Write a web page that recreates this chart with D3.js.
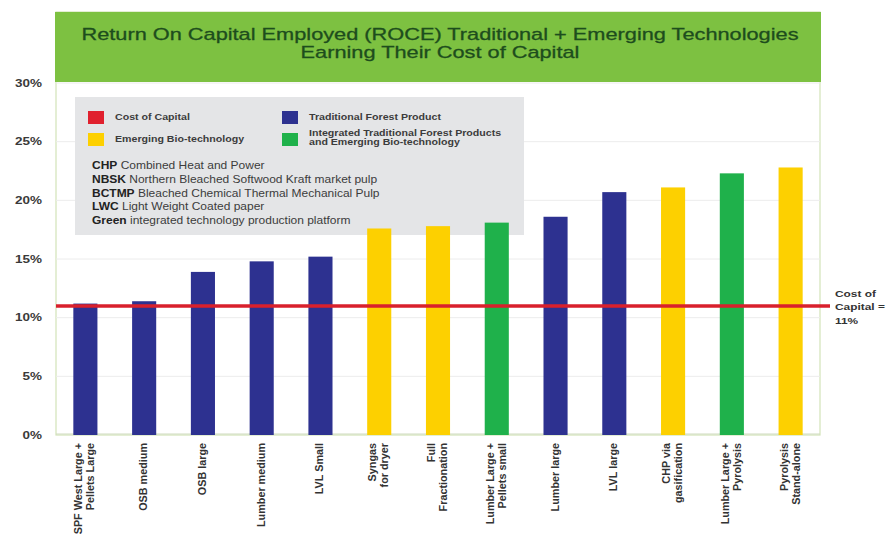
<!DOCTYPE html>
<html>
<head>
<meta charset="utf-8">
<script src="https://cdn.jsdelivr.net/npm/d3@7"></script>
<style>
    body { margin: 0; background: #fff; }
    svg { display: block; font-family: "Liberation Sans", Arial, sans-serif; }
</style>
</head>
<body>
<div class="content"></div>
<script>
(function (window) {
    'use strict';
    var categories = [
            "SPF West Large +\nPellets Large", "OSB medium", "OSB large", "Lumber medium",
            "LVL  Small", "Syngas\nfor dryer", "Full\nFractionation", "Lumber Large +\nPellets small",
            "Lumber large", "LVL large", "CHP via\ngasification", "Lumber Large +\nPyrolysis",
            "Pyrolysis\nStand-alone"
        ],
        roceValues = [11.2, 11.4, 13.9, 14.8, 15.2, 17.6, 17.8, 18.1, 18.6, 20.7, 21.1, 22.3, 22.8],
        barTypes = ["trad", "trad", "trad", "trad", "trad", "emerg", "emerg", "integ",
            "trad", "trad", "emerg", "integ", "emerg"],
        yTicks = [0, 5, 10, 15, 20, 25, 30],
        costOfCapital = 11,
        titleLines = [
            "Return On Capital Employed (ROCE) Traditional + Emerging Technologies",
            "Earning Their Cost of Capital"
        ],
        legendItems = [
            {key: "cost", label: ["Cost of Capital"]},
            {key: "trad", label: ["Traditional Forest Product"]},
            {key: "emerg", label: ["Emerging Bio-technology"]},
            {key: "integ", label: ["Integrated Traditional Forest Products", "and Emerging Bio-technology"]}
        ],
        abbrevs = [
            ["CHP", "Combined Heat and Power"],
            ["NBSK", "Northern Bleached Softwood Kraft market pulp"],
            ["BCTMP", "Bleached Chemical Thermal Mechanical Pulp"],
            ["LWC", "Light Weight Coated paper"],
            ["Green", "integrated technology production platform"]
        ],
        colors = {
            cost: "#e0202e",
            trad: "#2d3190",
            emerg: "#fdd000",
            integ: "#1fb14b"
        },
        opts = {
            width: 896,
            height: 535,
            left: 56,
            right: 820,
            top: 83,
            bottom: 435,
            stretch: 1.28   // the source image is squeezed wider than its type
        };

    var svg, x, y, legend, labels, title;

    svg = d3.select(".content").append("svg")
        .attr("width", opts.width)
        .attr("height", opts.height);

    x = d3.scaleBand()
        .domain(categories)
        .range([opts.left, opts.right])
        .paddingInner(0.59)
        .paddingOuter(0.295);

    y = d3.scaleLinear()
        .domain([0, 30])
        .range([opts.bottom, opts.top]);

    // plot frame
    svg.append("rect")
        .attr("x", opts.left)
        .attr("y", 12)
        .attr("width", opts.right - opts.left)
        .attr("height", opts.bottom - 12)
        .attr("fill", "none")
        .attr("stroke", "#d3e3b8")
        .attr("stroke-width", 1.2);

    // gridlines
    svg.append("g")
        .selectAll("line")
        .data(yTicks.slice(1))
        .enter().append("line")
        .attr("x1", opts.left)
        .attr("x2", opts.right)
        .attr("y1", function (d) { return y(d); })
        .attr("y2", function (d) { return y(d); })
        .attr("stroke", "#ececec")
        .attr("stroke-width", 1);

    // title bar
    svg.append("rect")
        .attr("x", 55)
        .attr("y", 12)
        .attr("width", 766)
        .attr("height", 70)
        .attr("fill", "#7dc141");
    title = svg.append("g")
        .attr("transform", "translate(440,0) scale(" + opts.stretch + ",1)");
    title.selectAll("text")
        .data(titleLines)
        .enter().append("text")
        .attr("x", 0)
        .attr("y", function (d, i) { return 40 + i * 18; })
        .attr("text-anchor", "middle")
        .attr("font-size", "17px")
        .attr("fill", "#1d4d1d")
        .attr("stroke", "#1d4d1d")
        .attr("stroke-width", 0.3)
        .text(function (d) { return d; });

    // y axis labels
    svg.append("g")
        .attr("transform", "translate(42,0)")
        .call(d3.axisLeft(y).tickValues(yTicks).tickSize(0).tickPadding(0)
            .tickFormat(function (d) { return d + "%"; }))
        .call(function (g) {
            g.select(".domain").remove();
            g.selectAll("text")
                .attr("transform", "scale(1.35,1)")
                .attr("font-family", "'Liberation Sans', Arial, sans-serif")
                .attr("font-size", "10px")
                .attr("font-weight", "bold")
                .attr("fill", "#3a3a3a");
        });

    // x axis line
    svg.append("line")
        .attr("x1", opts.left)
        .attr("x2", opts.right)
        .attr("y1", opts.bottom - 1)
        .attr("y2", opts.bottom - 1)
        .attr("stroke", "#d0dcc0")
        .attr("stroke-width", 1.2);

    // legend box
    legend = svg.append("g").attr("transform", "translate(75,97)");
    legend.append("rect")
        .attr("width", 449)
        .attr("height", 138)
        .attr("fill", "#e4e5e7");
    legend.selectAll("g.item")
        .data(legendItems)
        .enter().append("g")
        .attr("class", "item")
        .attr("transform", function (d, i) {
            return "translate(" + [i % 2 === 0 ? 13 : 207, i < 2 ? 14 : 36] + ")";
        })
        .each(function (d) {
            var g = d3.select(this);
            g.append("rect")
                .attr("width", 16)
                .attr("height", 13)
                .attr("fill", colors[d.key]);
            g.append("text")
                .attr("transform", "translate(27,0) scale(" + opts.stretch + ",1)")
                .attr("font-size", "8.3px")
                .attr("font-weight", "bold")
                .attr("fill", "#3c3c3c")
                .selectAll("tspan")
                .data(d.label)
                .enter().append("tspan")
                .attr("x", 0)
                .attr("y", function (t, i) { return (d.label.length > 1 ? 3 : 9.5) + i * 9.5; })
                .text(function (t) { return t; });
        });
    legend.selectAll("text.abbr")
        .data(abbrevs)
        .enter().append("text")
        .attr("class", "abbr")
        .attr("transform", function (d, i) {
            return "translate(" + [17, 72 + i * 13.8] + ") scale(1.2,1)";
        })
        .attr("font-size", "10px")
        .attr("fill", "#3c3c3c")
        .each(function (d) {
            var t = d3.select(this);
            t.append("tspan").attr("font-weight", "bold").attr("fill", "#222").text(d[0]);
            t.append("tspan").text(" " + d[1]);
        });

    // bars
    svg.append("g")
        .selectAll("rect")
        .data(roceValues)
        .enter().append("rect")
        .attr("x", function (d, i) { return x(categories[i]); })
        .attr("y", function (d) { return y(d); })
        .attr("width", x.bandwidth())
        .attr("height", function (d) { return y(0) - y(d); })
        .attr("fill", function (d, i) { return colors[barTypes[i]]; });

    // category labels
    labels = svg.append("g")
        .selectAll("text")
        .data(categories)
        .enter().append("text")
        .attr("transform", function (d) {
            return "translate(" + [x(d) + x.bandwidth() / 2 - 1, 443] + ") rotate(-90)";
        })
        .attr("text-anchor", "end")
        .attr("font-size", "10.8px")
        .attr("font-weight", "bold")
        .attr("fill", "#333");
    labels.each(function (d) {
        var lines = d.split("\n"),
            t = d3.select(this),
            start = 4 - (lines.length - 1) * 6;
        lines.forEach(function (line, i) {
            t.append("tspan")
                .attr("x", 0)
                .attr("y", start + i * 12)
                .text(line);
        });
    });

    // cost of capital line
    svg.append("line")
        .attr("x1", opts.left)
        .attr("x2", 830)
        .attr("y1", y(costOfCapital))
        .attr("y2", y(costOfCapital))
        .attr("stroke", "#d9202c")
        .attr("stroke-width", 3.5);
    svg.append("g")
        .attr("transform", "translate(835,0) scale(1.25,1)")
        .selectAll("text")
        .data(["Cost of", "Capital =", costOfCapital + "%"])
        .enter().append("text")
        .attr("x", 0)
        .attr("y", function (d, i) { return y(costOfCapital) - 9 + i * 13.5; })
        .attr("font-size", "9.5px")
        .attr("font-weight", "bold")
        .attr("fill", "#333")
        .text(function (d) { return d; });
}(window));
</script>
</body>
</html>
